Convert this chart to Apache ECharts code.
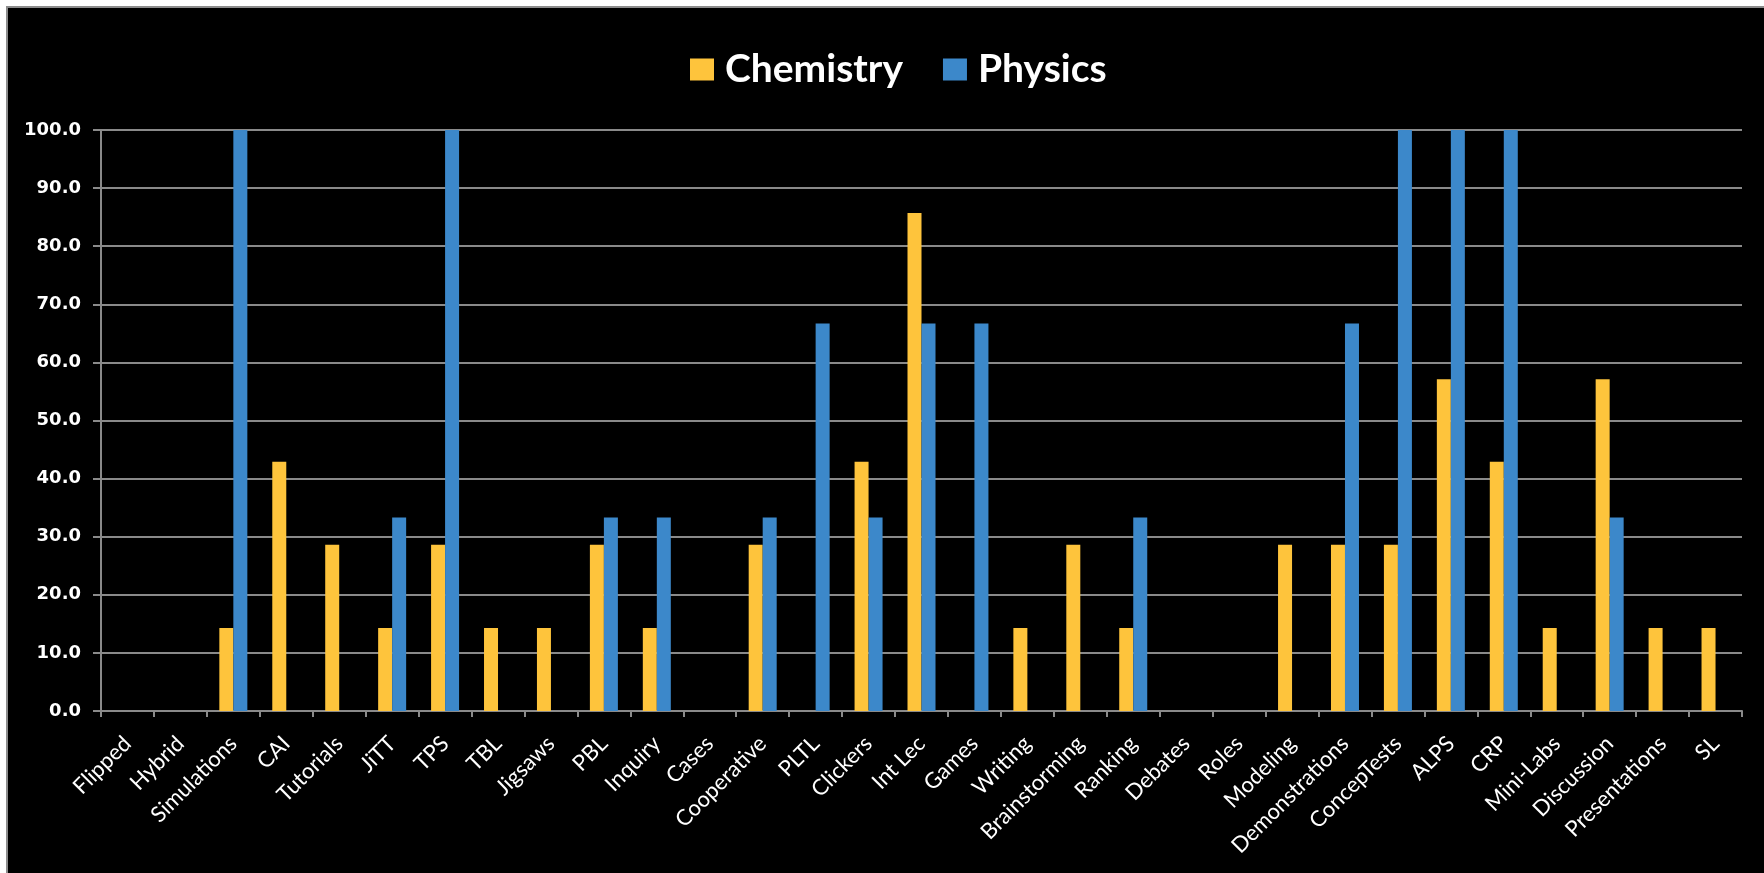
<!DOCTYPE html>
<html>
<head>
<meta charset="utf-8">
<script src="https://cdn.jsdelivr.net/npm/echarts@6/dist/echarts.min.js"></script>
<style>
  html, body { margin: 0; padding: 0; background: #fff; width: 1764px; height: 873px; overflow: hidden; }
  #panel { position: absolute; left: 6px; top: 6px; right: 0; bottom: 0; background: #000;
           border-left: 2px solid #8c8c8c; border-top: 2px solid #8c8c8c; }
  #chart { position: absolute; left: 0; top: 0; width: 1764px; height: 873px; }
</style>
</head>
<body>
<div id="panel"></div>
<div id="chart"></div>
<script>
// Teaching strategies (percent of respondents using each)
const categories = [
  'Flipped', 'Hybrid', 'Simulations', 'CAI', 'Tutorials', 'JiTT', 'TPS', 'TBL', 'Jigsaws',
  'PBL', 'Inquiry', 'Cases', 'Cooperative', 'PLTL', 'Clickers', 'Int Lec', 'Games', 'Writing',
  'Brainstorming', 'Ranking', 'Debates', 'Roles', 'Modeling', 'Demonstrations', 'ConcepTests',
  'ALPS', 'CRP', 'Mini-Labs', 'Discussion', 'Presentations', 'SL'
];
const chemistry = [
  0, 0, 14.3, 42.9, 28.6, 14.3, 28.6, 14.3, 14.3,
  28.6, 14.3, 0, 28.6, 0, 42.9, 85.7, 0, 14.3,
  28.6, 14.3, 0, 0, 28.6, 28.6, 28.6,
  57.1, 42.9, 14.3, 57.1, 14.3, 14.3
];
const physics = [
  0, 0, 100, 0, 0, 33.3, 100, 0, 0,
  33.3, 33.3, 0, 33.3, 66.7, 33.3, 66.7, 66.7, 0,
  0, 33.3, 0, 0, 0, 66.7, 100,
  100, 100, 0, 33.3, 0, 0
];
const yMin = 0, yMax = 100, yStep = 10;

const chart = echarts.init(document.getElementById('chart'), null, { renderer: 'canvas' });
const grey = '#8a8a8a';

chart.setOption({
  backgroundColor: 'transparent',
  animation: false,
  legend: {
    left: 685, top: 45,
    itemWidth: 24, itemHeight: 22, itemGap: 40,
    icon: 'rect',
    textStyle: { color: '#fff', fontFamily: 'Lato', fontWeight: 'bold', fontSize: 39, padding: [0, 0, 12, 6] },
    data: ['Chemistry', 'Physics']
  },
  grid: { left: 101, right: 22, top: 130, bottom: 162, containLabel: false },
  xAxis: {
    type: 'category',
    data: categories,
    boundaryGap: true,
    axisLine: { lineStyle: { color: grey, width: 2 } },
    axisTick: { show: true, alignWithLabel: false, length: 6, lineStyle: { color: grey, width: 2 } },
    axisLabel: {
      interval: 0, rotate: 45, margin: 29,
      padding: [48, 0, 0, 0],
      color: '#fff', fontFamily: 'Lato', fontSize: 22
    }
  },
  yAxis: {
    type: 'value',
    min: yMin, max: yMax, interval: yStep,
    axisLine: { show: true, lineStyle: { color: grey, width: 2 } },
    axisTick: { show: true, length: 8, lineStyle: { color: grey, width: 2 } },
    splitLine: { show: true, lineStyle: { color: grey, width: 2 } },
    axisLabel: {
      margin: 20, color: '#fff', fontFamily: 'DejaVu Sans', fontWeight: 'bold', fontSize: 18,
      formatter: v => v.toFixed(1)
    }
  },
  series: [
    { name: 'Chemistry', type: 'bar', data: chemistry, barWidth: 14, barGap: '0%',
      itemStyle: { color: '#FEC43C' } },
    { name: 'Physics', type: 'bar', data: physics, barWidth: 14, barGap: '0%',
      itemStyle: { color: '#3C88CA' } }
  ]
});
</script>
</body>
</html>
